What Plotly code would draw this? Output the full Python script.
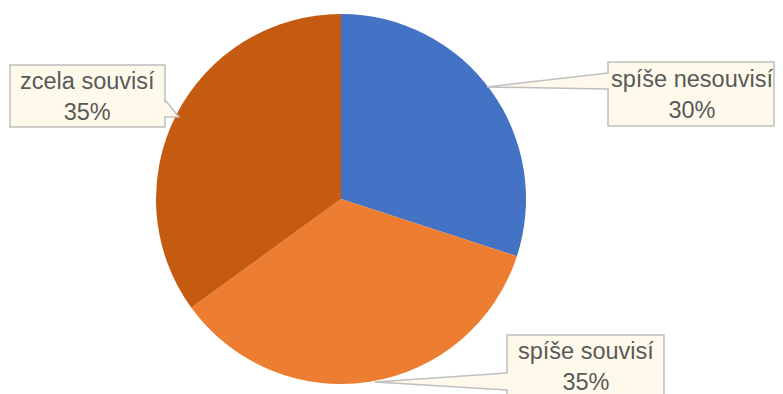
import plotly.graph_objects as go

labels = ["spíše nesouvisí", "spíše souvisí", "zcela souvisí"]
values = [30, 35, 35]
colors = ["#4472C4", "#ED7D31", "#C55A11"]

OFF = 8  # page body margin offset
W, H = 783 - OFF, 394 - OFF


def px(x):
    return (x - OFF) / W


def py(y):
    return 1 - (y - OFF) / H


fig = go.Figure(go.Pie(
    labels=labels, values=values, sort=False, direction="clockwise", rotation=0,
    marker=dict(colors=colors, line=dict(width=0)),
    textinfo="none", hoverinfo="label+percent", showlegend=False,
    domain=dict(x=[px(155), px(527)], y=[py(384), py(14)]),
))

FILL = "#FFF9EC"
EDGE = "#BFBFBF"
# callout geometry in window pixels: box (x0, y0, x1, y1), text center, wedge base (x, ya, yb), tip
callouts = {
    "spíše nesouvisí": dict(box=(608, 62, 774, 126), text=(692, 94),
                            base=(608, 73, 89), tip=(487, 87), side=1),
    "spíše souvisí": dict(box=(507, 335, 664, 410), text=(586, 366),
                          base=(507, 373, 390), tip=(375, 382), side=1),
    "zcela souvisí": dict(box=(10, 65, 165, 127), text=(87, 96),
                          base=(165, 100, 117), tip=(179, 117), side=-1),
}
total = sum(values)
for lab, val in zip(labels, values):
    c = callouts[lab]
    x0, y0, x1, y1 = c["box"]
    bx, ya, yb = c["base"]
    tx, ty = c["tip"]
    s = c["side"]
    fig.add_shape(type="rect", xref="paper", yref="paper",
                  x0=px(x0), x1=px(x1), y0=py(y1), y1=py(y0),
                  fillcolor=FILL, line=dict(color=EDGE, width=1.5), layer="above")
    # cover the border where the wedge joins
    fig.add_shape(type="path", xref="paper", yref="paper",
                  path=(f"M {px(bx + 2 * s)},{py(ya + 0.8)} L {px(tx)},{py(ty)} "
                        f"L {px(bx + 2 * s)},{py(yb - 0.8)} Z"),
                  fillcolor=FILL, line=dict(width=0), layer="above")
    fig.add_shape(type="path", xref="paper", yref="paper",
                  path=f"M {px(bx)},{py(ya)} L {px(tx)},{py(ty)} L {px(bx)},{py(yb)}",
                  line=dict(color=EDGE, width=1.5), layer="above")
    cx, cy = c["text"]
    fig.add_annotation(
        xref="paper", yref="paper", x=px(cx), y=py(cy), xanchor="center", yanchor="middle",
        text=f"{lab}<br>{round(100 * val / total)}%", showarrow=False,
        font=dict(family="Liberation Sans, Arial, sans-serif", size=23.5, color="#595959"),
        align="center",
    )

fig.update_layout(
    width=W, height=H, margin=dict(l=0, r=0, t=0, b=0),
    paper_bgcolor="white", plot_bgcolor="white",
)
fig.write_html("out.html")
